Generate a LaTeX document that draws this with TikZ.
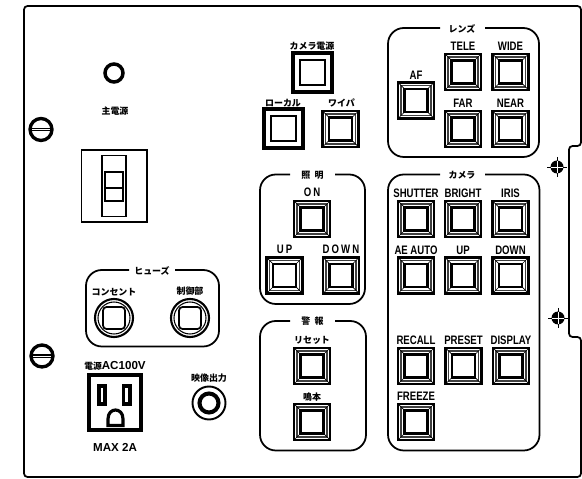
\documentclass[tikz,border=0pt]{standalone}
\usepackage{fontspec}
\setmainfont{Liberation Sans}[FakeStretch=0.78]
\newfontfamily\widefont{Liberation Sans}
\newfontfamily\jpfont{Noto Sans CJK JP}
\tikzset{
  lat/.style={font=\bfseries\fontsize{7}{7}\selectfont, inner sep=0pt},
  wid/.style={font=\widefont\bfseries\fontsize{6.6}{7}\selectfont, inner sep=0pt},
  jap/.style={font=\jpfont\bfseries\fontsize{5.1}{5.5}\selectfont, inner sep=0pt},
  grp/.style={line width=1pt, rounded corners=9},
  keyface/.pic={
    \draw[line width=1.5pt] (-18,-18) rectangle (18,18);
    \draw[line width=0.8pt, black!75] (-15,-15) rectangle (15,15);
    \draw[line width=0.4pt] (-18,-18) -- (-11,-11) (18,-18) -- (11,-11) (-18,18) -- (-11,11) (18,18) -- (11,11);
    \draw[line width=1.3pt, fill=white] (-11.5,-11.5) rectangle (11.5,11.5);
  },
  lampkey/.pic={
    \draw[line width=2pt] (-19.5,-19.5) rectangle (19.5,19.5);
    \draw[line width=0.6pt] (-12.5,-12.5) rectangle (12.5,12.5);
  },
  fusecap/.pic={
    \draw[line width=1.2pt] (0,0) circle (19);
    \draw[line width=0.6pt] (0,0) circle (16);
    \draw[line width=1pt, rounded corners=2] (-11,-11) rectangle (11,11);
  },
  screwhead/.pic={
    \draw[line width=1.9pt] (0,0) circle (11);
    \draw[line width=2.2pt] (-11,0) -- (11,0);
    \draw[line width=0.5pt, white] (-9,0) -- (9,0);
  },
  mounthole/.pic={
    \fill (0,0) circle (6.5);
    \draw[line width=0.4pt] (-10,0) -- (10,0) (0,-10) -- (0,10);
    \draw[line width=0.3pt, white] (-6,0) -- (6,0) (0,-6) -- (0,6);
  }
}
\begin{document}
\begin{tikzpicture}[x=0.02cm,y=-0.02cm]
\useasboundingbox (0,0) rectangle (582,479);

% panel outline
\draw[line width=1pt, rounded corners=2] (24,6) -- (581,6) -- (581,146) -- (569,146) -- (569,337) -- (581,337) -- (581,477) -- (24,477) -- cycle;

% screws and mounting holes
\pic (screwtop) at (41,129.5) {screwhead};
\pic (screwbot) at (42,356) {screwhead};
\pic (holetop) at (557,167) {mounthole};
\pic (holebot) at (558,318) {mounthole};

% main power
\draw[line width=2pt] (114,73) circle (9);
\node[jap] (mainlbl) at (115,111) {主電源};
\draw[line width=1pt] (81.5,150) rectangle (147,222);
\draw[line width=1pt] (102,155.5) rectangle (126,216.5);
\draw[line width=1.7pt] (105,172) rectangle (123,201);
\draw[line width=1pt] (105,188) -- (123,188);

% fuses
\draw[grp] (129,270) -- (86,270) -- (86,346.5) -- (219,346.5) -- (219,270) -- (175,270);
\node[jap] (fuselbl) at (152,270.5) {ヒューズ};
\node[jap] (outletlbl) at (114,292) {コンセント};
\node[jap] (ctrllbl) at (190,291) {制御部};
\pic (fuseleft) at (114,318) {fusecap};
\pic (fuseright) at (190,318) {fusecap};

% power outlet
\node[wid] (aclbl) at (115,366) {{\jpfont\fontsize{5}{5}\selectfont 電源}AC100V};
\draw[line width=1.9pt] (89,375) rectangle (141,430);
\draw[line width=2.2pt] (99,386) rectangle (105,404);
\draw[line width=2.2pt] (123.5,386) rectangle (130,404);
\draw[line width=1.8pt] (108,425.5) -- (108,419) .. controls (108,407) and (123,407) .. (123,419) -- (123,425.5) -- cycle;
\node[wid] (maxlbl) at (115,447) {MAX 2A};

% video out
\node[jap] (videolbl) at (209,378) {映像出力};
\draw[line width=1.1pt] (209,403) circle (16.5);
\draw[line width=2.3pt] (209,403) circle (9.5);

% lamp keys and wiper
\node[jap] (camlbl) at (312,46.5) {カメラ電源};
\pic (campower) at (312.5,72.5) {lampkey};
\node[jap] (locallbl) at (283,103) {ローカル};
\pic (localkey) at (283.5,128.5) {lampkey};
\node[jap] (wiperlbl) at (341.5,103) {ワイパ};
\pic (wiper) at (340.5,129) {keyface};

% lens group
\draw[grp] (485,28) -- (539,28) -- (539,157) -- (388,157) -- (388,28) -- (440,28);
\node[jap] (lenslbl) at (462,28.5) {レンズ};
\foreach \nm/\px/\py/\txt in {af/416/100.5/AF, tele/463/72/TELE, wide/510.5/72/WIDE, far/463/129/FAR, near/510.5/129/NEAR}{
  \pic (\nm) at (\px,\py) {keyface};
  \node[lat] (\nm lbl) at (\px,\py-25.5) {\txt};
}

% camera group
\draw[grp] (485,174.5) -- (539.5,174.5) -- (539.5,450.5) -- (388,450.5) -- (388,174.5) -- (440,174.5);
\node[jap] (cameralbl) at (462,175) {カメラ};
\foreach \nm/\px/\py/\txt in {shutter/416/219/SHUTTER, bright/463/219/BRIGHT, iris/510.5/219/IRIS, aeauto/416/275.5/AE AUTO, camup/463/275.5/UP, camdown/510.5/275.5/DOWN, recall/416/366/RECALL, preset/463.5/366/PRESET, display/511/366/DISPLAY, freeze/416/422/FREEZE}{
  \pic (\nm) at (\px,\py) {keyface};
  \node[lat] (\nm lbl) at (\px,\py-25.5) {\txt};
}

% light group
\draw[grp] (335,174.5) -- (365,174.5) -- (365,304) -- (260,304) -- (260,174.5) -- (290,174.5);
\node[jap] (lightlbl) at (312.5,175) {照\ \ 明};
\foreach \nm/\px/\py/\txt in {lighton/312/219/O\,N, lightup/284.5/275.5/U\,P, lightdown/341/275.5/D\,O\,W\,N}{
  \pic (\nm) at (\px,\py) {keyface};
  \node[lat] (\nm lbl) at (\px,\py-26.5) {\txt};
}

% alarm group
\draw[grp] (335,321) -- (366,321) -- (366,450.5) -- (260,450.5) -- (260,321) -- (290,321);
\node[jap] (alarmlbl) at (312.5,321.5) {警\ \ 報};
\node[jap] (resetlbl) at (312,340) {リセット};
\pic (reset) at (312,366) {keyface};
\node[jap] (stoplbl) at (312,397) {鳴本};
\pic (stopkey) at (312,422) {keyface};
\end{tikzpicture}
\end{document}
